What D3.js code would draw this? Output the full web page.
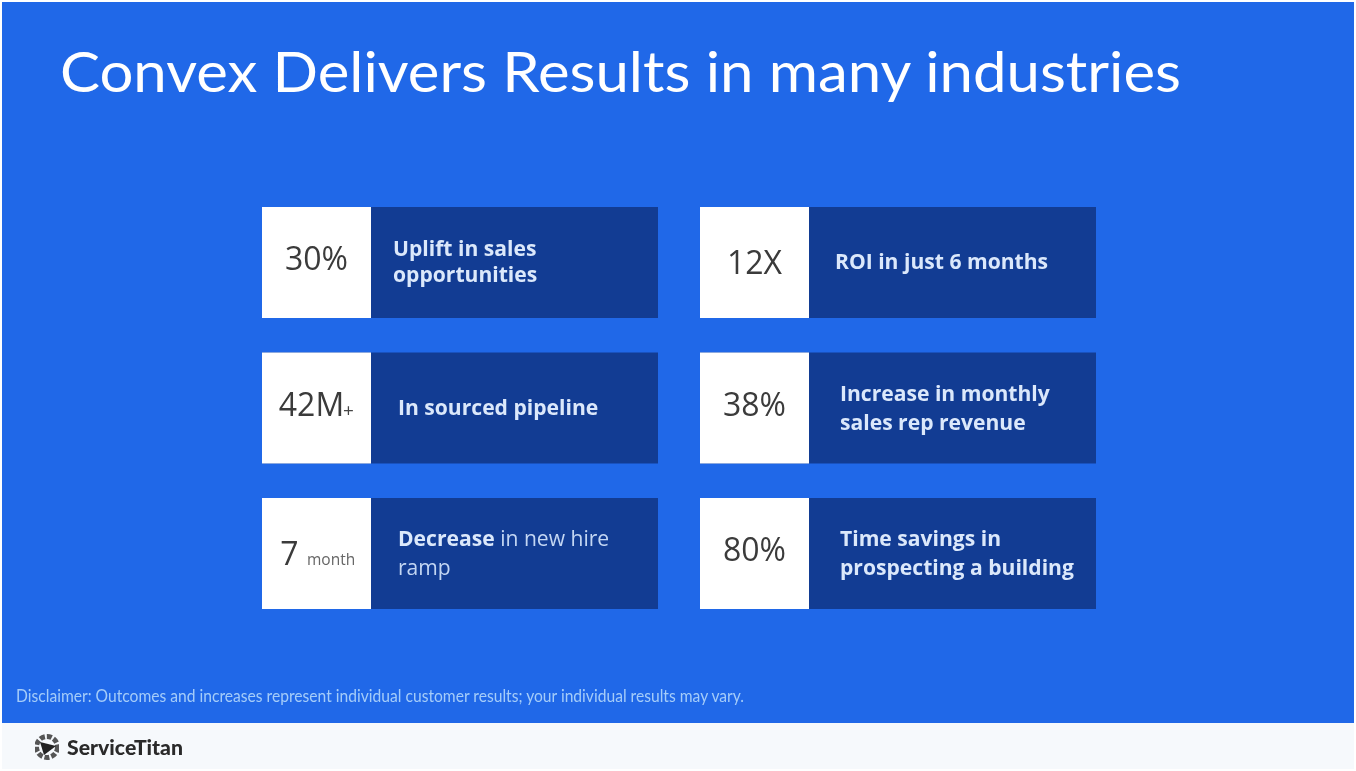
<!DOCTYPE html>
<html><head><meta charset="utf-8">
<script src="https://cdn.jsdelivr.net/npm/d3@7/dist/d3.min.js"></script>
<style>html,body{margin:0;padding:0;background:#fff;overflow:hidden}svg{display:block}</style>
</head><body><svg id="c" width="1356" height="771"></svg>
<script>
const titleText = "Convex Delivers Results in many industries";
const disclaimer = "Disclaimer: Outcomes and increases represent individual customer results; your individual results may vary.";
const brand = "ServiceTitan";
const columns = [0, 1];
const rows = [0, 1, 2];
const statValues = ["30%", "12X", "42M", "38%", "7", "80%"];
const statSuffix = ["", "", "+", "", "month", ""];
const descriptions = [
  ["Uplift in sales", "opportunities"],
  ["ROI in just 6 months"],
  ["In sourced pipeline"],
  ["Increase in monthly", "sales rep revenue"],
  ["Decrease in new hire", "ramp"],
  ["Time savings in", "prospecting a building"]
];
const descInset = [22, 26, 27, 31, 27, 31];
const lineGap = [26, 0, 0, 29, 29, 29];
const statShift = [7, 11, 8, 8, 11, 7];
const descShift = [6, 6, 7, 7, 7, 7];

const svg = d3.select("#c");
const soft = svg.append("defs").append("filter").attr("id","soft").attr("x","-5%").attr("y","-20%").attr("width","110%").attr("height","140%");
soft.append("feGaussianBlur").attr("stdDeviation",0.55);

svg.append("rect").attr("x",2).attr("y",2).attr("width",1352).attr("height",721).attr("fill","#2068e8");
svg.append("rect").attr("x",2).attr("y",723).attr("width",1352).attr("height",46).attr("fill","#f6f9fc");

svg.append("text").attr("x",60).attr("y",92).attr("fill","#fff").attr("filter","url(#soft)")
  .attr("font-family","Lato").attr("font-size",57).attr("font-weight",400)
  .attr("textLength",1121).attr("lengthAdjust","spacingAndGlyphs").text(titleText);

const xPos = d3.scaleOrdinal().domain(columns).range([262,700]);
const yPos = d3.scaleBand().domain(rows).range([207,609]).paddingInner(34.5/145.5);
const cardW = 396, boxW = 109;

const cells = statValues.map((v,i)=>({v, suffix:statSuffix[i], lines:descriptions[i], col:i%2, row:Math.floor(i/2), inset:descInset[i], gap:lineGap[i], shift:statShift[i], dshift:descShift[i]}));
const g = svg.selectAll("g.card").data(cells).join("g").attr("class","card")
  .attr("transform",d=>`translate(${xPos(d.col)},${yPos(d.row)})`);
const h = yPos.bandwidth();
g.append("rect").attr("width",cardW).attr("height",h).attr("fill","#123c93");
g.append("rect").attr("width",boxW).attr("height",h).attr("fill","#ffffff");

g.each(function(d){
  const n = d3.select(this);
  const t = n.append("text").attr("y",h/2+d.shift).attr("fill","#3a3a3a").attr("filter","url(#soft)")
    .attr("font-family","'Open Sans'").attr("font-size",32).attr("text-anchor","middle").attr("x",boxW/2);
  if(d.suffix==="month"){
    t.attr("x",boxW/2-27).text(d.v);
    n.append("text").attr("x",45).attr("y",h/2+d.shift).attr("fill","#666").attr("filter","url(#soft)").attr("font-family","'Open Sans'").attr("font-size",15.5).text(d.suffix);
  } else if(d.suffix==="+"){
    t.attr("x",boxW/2-5).text(d.v);
    n.append("text").attr("x",81).attr("y",h/2+d.shift+1).attr("fill","#444").attr("filter","url(#soft)").attr("font-family","'Open Sans'").attr("font-size",19).text(d.suffix);
  } else t.text(d.v);

  const base = h/2 + d.dshift - (d.lines.length-1)*(d.gap/2);
  d.lines.forEach((ln,j)=>{
    const tx = n.append("text").attr("x",boxW+d.inset).attr("y",base+j*d.gap).attr("filter","url(#soft)")
      .attr("fill","#dbe8fb").attr("font-family","'Open Sans'").attr("font-size",21.1).attr("font-weight",700);
    if(ln.startsWith("Decrease")){
      tx.append("tspan").text("Decrease");
      tx.append("tspan").attr("font-weight",400).attr("fill","#c3d6f3").text(ln.slice(8));
    } else if(ln==="ramp"){ tx.attr("font-weight",400).attr("fill","#c3d6f3").text(ln); }
    else tx.text(ln);
  });
});

svg.append("text").attr("x",16).attr("y",702).attr("fill","#a4ccf9").attr("filter","url(#soft)")
  .attr("font-family","Lato").attr("font-size",17)
  .attr("textLength",728).attr("lengthAdjust","spacingAndGlyphs").text(disclaimer);

const logo = svg.append("g").attr("transform","translate(47,747)").attr("filter","url(#soft)");
logo.append("circle").attr("r",10.5).attr("fill","none").attr("stroke","#555").attr("stroke-width",5).attr("stroke-dasharray","5 2");
logo.append("path").attr("d",d3.line()([[-7,-5],[9,-1],[-3,8]])).attr("fill","#222");
svg.append("text").attr("x",67).attr("y",755).attr("fill","#2a2a2a").attr("filter","url(#soft)")
  .attr("font-family","Lato").attr("font-size",20).attr("font-weight",900)
  .attr("textLength",116).attr("lengthAdjust","spacingAndGlyphs").text(brand);
</script></body></html>
